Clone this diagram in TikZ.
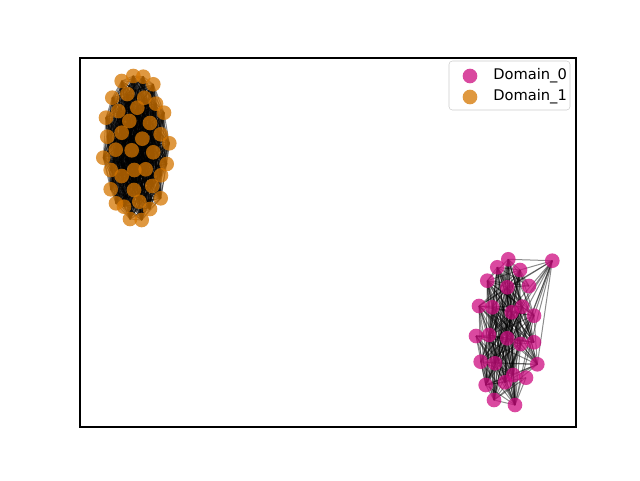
\documentclass[tikz,border=0pt]{standalone}
\usepackage{fontspec}
\setmainfont{DejaVu Sans}
\usetikzlibrary{backgrounds}

\definecolor{domzero}{RGB}{205,12,128}
\definecolor{domone}{RGB}{212,117,0}
\definecolor{legendedge}{RGB}{204,204,204}

\tikzset{every picture/.style={line width=0.75pt}}
\tikzset{
  zeronode/.style={circle,inner sep=0pt,minimum size=11,fill=domzero,fill opacity=0.75},
  onenode/.style={circle,inner sep=0pt,minimum size=11,fill=domone,fill opacity=0.75},
  graphedge/.style={draw=black,draw opacity=0.45,line width=0.75pt},
}

\begin{document}
\begin{tikzpicture}[x=0.75pt,y=0.75pt,yscale=-1,xscale=1]
\useasboundingbox (0,0) rectangle (640,480);

%Shape: Axes frame
\draw [line width=0.8pt] (80,58) rectangle (576,427) ;

% Domain_1 nodes
\foreach \x/\y [count=\i] in {121.7/81,133.3/76,143.3/76.7,153.3/84.3,112.3/97.7,127.3/94,144.3/97.7,156/103.7,
  118.3/111,137.3/107.7,164/112.7,106/117.7,129.3/121,150/123,107.3/136.7,121.7/132.7,
  142.3/138.7,160.7/134.3,169.3/143.3,115.7/149.7,131.7/150.3,153.3/152.3,103.3/157.7,166.7/164,
  110.7/170,134.3/170,145.7/169.3,121.7/176,161/175.3,110.7/189.3,134/190,152.3/186,
  116/203.3,124/206.7,139.3/201.7,160.7/198.3,150/209,130/219,141.7/220}
  \node [onenode] (o\i) at (\x,\y) {};

% Domain_0 nodes
\foreach \x/\y [count=\i] in {508.3/259.3,552.3/260.7,497.3/267.3,520/270,487.3/280.7,507.3/287.3,529/286,
  479/306,492.3/307.3,522.3/306.7,511.7/312.3,534/315.7,476/336,489/335,507.3/338.3,
  520.7/344,534/342.3,480.7/361.7,495/363.3,537.3/364.3,513.3/375,505/382.3,526/377.7,
  485.7/385,494/400,515/405}
  \node [zeronode] (m\i) at (\x,\y) {};

% Edges
\begin{pgfonlayer}{background}
\foreach \i in {1,...,38}{
  \pgfmathtruncatemacro\s{\i+1}
  \foreach \j in {\s,...,39}
    \draw [graphedge] (o\i.center) -- (o\j.center) ;
}
\foreach \i in {1,...,25}{
  \pgfmathtruncatemacro\s{\i+1}
  \foreach \j in {\s,...,26}{
    \pgfmathtruncatemacro\r{mod(\i*37+\j*53+\i*\j*11,10)}
    \ifnum\r<8
      \draw [graphedge] (m\i.center) -- (m\j.center) ;
    \fi
  }
}
\end{pgfonlayer}

%Shape: Legend
\draw [draw=legendedge,fill=white,fill opacity=0.8,rounded corners=2.5] (449,61) rectangle (570,110) ;
\node [zeronode] (legzero) at (470,76) {};
\node [onenode] (legone) at (470,97) {};
\node [anchor=west,inner sep=0pt,font=\fontsize{11}{13}\selectfont] (legzerotext) at (493,76) {Domain\_0};
\node [anchor=west,inner sep=0pt,font=\fontsize{11}{13}\selectfont] (legonetext) at (493,97) {Domain\_1};

\end{tikzpicture}
\end{document}
